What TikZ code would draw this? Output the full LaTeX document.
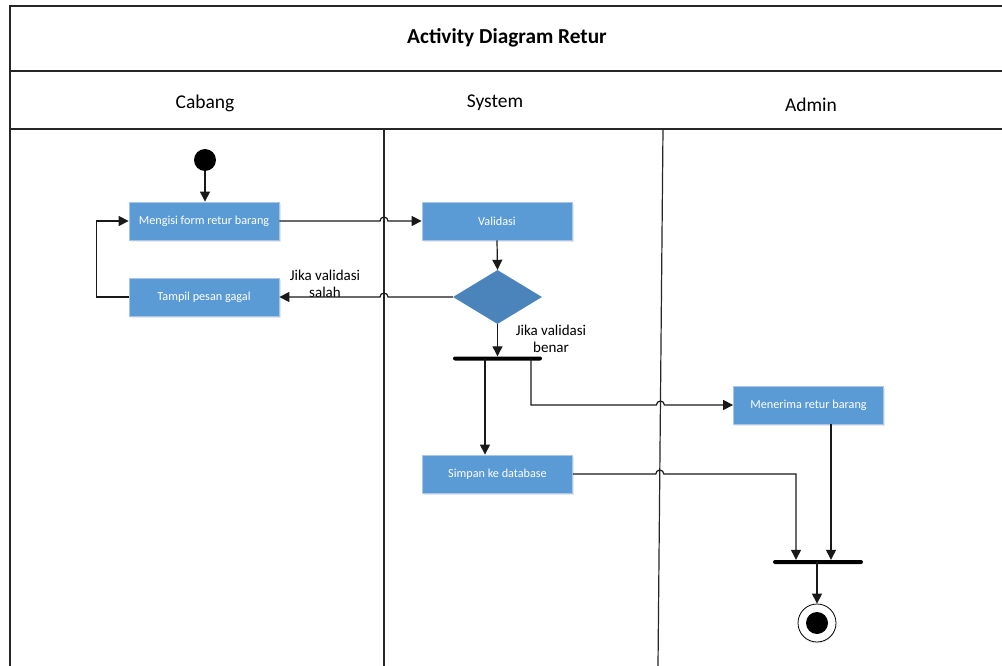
\documentclass[tikz,border=0pt]{standalone}
\usepackage{fontspec}
\setmainfont{Carlito}
\usetikzlibrary{arrows.meta,shapes.geometric,shadows}
\definecolor{actfill}{HTML}{5B9BD5}
\definecolor{actline}{HTML}{A9C6E8}
\definecolor{decfill}{HTML}{4A84BA}
\tikzset{
  frameline/.style={line width=1.6pt,black!85},
  laneline/.style={line width=1.2pt,black!85},
  activity/.style={rectangle,draw=actline,line width=0.8pt,fill=actfill,
    minimum width=150pt,minimum height=38pt,inner sep=0pt,
    text=white,font=\fontsize{12.2}{14}\selectfont,
    drop shadow={opacity=0.18,shadow xshift=1.5pt,shadow yshift=-2pt}},
  decision/.style={diamond,fill=decfill,minimum width=89pt,minimum height=54pt,
    inner sep=0pt,aspect=1.65},
  bar/.style={rectangle,fill=black,minimum height=4pt,inner sep=0pt,rounded corners=2pt},
  flow/.style={line width=1.2pt,black!90,-{Triangle[length=10pt,width=10pt]}},
  guard/.style={align=center,font=\fontsize{15}{17}\selectfont},
  lanehead/.style={font=\fontsize{19.5}{22}\selectfont},
}
\begin{document}
\begin{tikzpicture}[x=1pt,y=1pt]
\useasboundingbox (0,0) rectangle (1002,-666);
\fill[white] (0,0) rectangle (1002,-666);

% swimlane frame
\draw[frameline] (1002,-6) -- (10,-6) -- (10,-666);
\draw[frameline] (10,-71) -- (1002,-71);
\draw[frameline] (10,-129) -- (1002,-129);
\draw[laneline] (384,-129) -- (384,-666);
\draw[laneline] (663,-129) -- (658,-666);

\node[font=\bfseries\fontsize{21.3}{24}\selectfont] (title) at (507,-38) {Activity Diagram Retur};
\node[lanehead] (hcab) at (205,-103) {Cabang};
\node[lanehead] (hsys) at (495,-103) {System};
\node[lanehead] (hadm) at (811,-105) {Admin};

% nodes
\node[circle,fill=black,minimum size=22pt,inner sep=0pt] (start) at (205,-160) {};
\node[activity] (isi) at (204,-221) {Mengisi form retur barang};
\node[activity] (gagal) at (204,-297) {Tampil pesan gagal};
\node[activity] (val) at (497,-221) {Validasi};
\node[decision] (cek) at (497.5,-297) {};
\node[bar,minimum width=89pt] (fork) at (497.5,-358.5) {};
\node[activity] (simpan) at (497.5,-474) {Simpan ke database};
\node[activity] (terima) at (808.5,-405) {Menerima retur barang};
\node[bar,minimum width=90pt] (join) at (818,-562) {};
\node[circle,draw=black,line width=0.8pt,fill=white,minimum size=38pt,inner sep=0pt,
  drop shadow={opacity=0.15,shadow xshift=0.5pt,shadow yshift=-1.5pt}] (end) at (817,-623) {};
\node[circle,fill=black,minimum size=22pt,inner sep=0pt] (endDot) at (end) {};

\node[guard] (lsalah) at (325,-283.5) {Jika validasi\\salah};
\node[guard] (lbenar) at (551,-338.5) {Jika validasi\\benar};

% connection points on the bars
\coordinate (forkA) at (485,-358.5);
\coordinate (forkB) at (531,-358.5);
\coordinate (joinA) at (796,-562);
\coordinate (joinB) at (831,-562);
\coordinate (endIn) at (817,-562);

% flows
\draw[flow] (start) -- (start |- isi.north);
\draw[flow] (gagal.west) -- ++(-32,0) |- (isi.west);
\draw[flow] (isi.east) -- (380,-221) arc[start angle=180,end angle=0,radius=4pt] -- (val.west);
\draw[flow] (val.south) -- (cek.north);
\draw[flow] (cek.west) -- (388,-297) arc[start angle=0,end angle=180,radius=4pt] -- (gagal.east);
\draw[flow] (cek.south) -- (cek.south |- fork.north);
\draw[flow] (forkA) -- (forkA |- simpan.north);
\draw[flow] (forkB) |- (656.4,-405) arc[start angle=180,end angle=0,radius=4pt] -- (terima.west);
\draw[flow] (simpan.east) -- (655.8,-474) arc[start angle=180,end angle=0,radius=4pt] -| (joinA |- join.north);
\draw[flow] (joinB |- terima.south) -- (joinB |- join.north);
\draw[flow] (endIn) -- (end.north);
\end{tikzpicture}
\end{document}
